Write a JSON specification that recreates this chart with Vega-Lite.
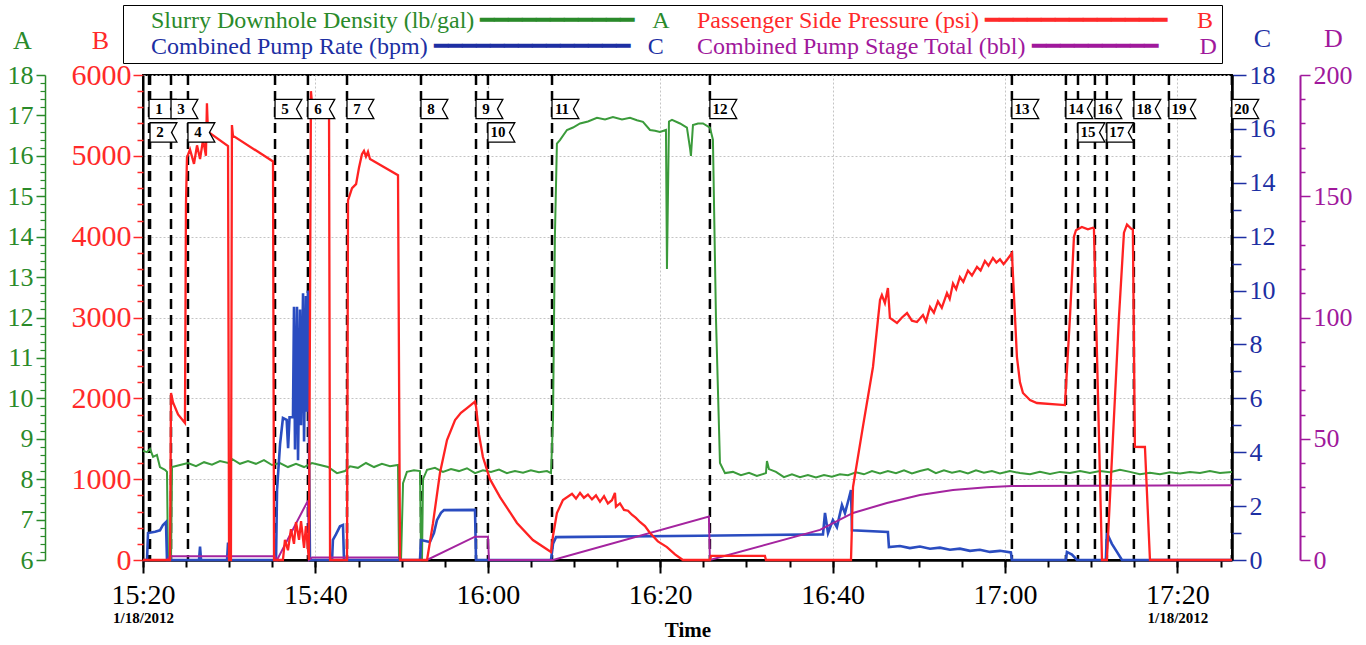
{
  "$schema": "https://vega.github.io/schema/vega-lite/v6.json",
  "width": 1089,
  "height": 485,
  "autosize": {"type": "none"},
  "padding": {"left": 143, "top": 75, "right": 134, "bottom": 85},
  "background": "white",
  "config": {
    "font": "Liberation Serif",
    "view": {"stroke": "black", "strokeWidth": 2},
    "axis": {"labelFont": "Liberation Serif", "titleFont": "Liberation Serif", "labelFontWeight": "normal"}
  },
  "datasets": {
    "density": [
      {"t": "15:20:00", "v": 8.7}, {"t": "15:20:28", "v": 8.67}, {"t": "15:20:49", "v": 8.75}, {"t": "15:21:10", "v": 8.55},
      {"t": "15:21:37", "v": 8.6}, {"t": "15:21:58", "v": 8.3}, {"t": "15:22:33", "v": 8.23}, {"t": "15:22:47", "v": 8.18},
      {"t": "15:22:54", "v": 6.0}, {"t": "15:23:15", "v": 6.0}, {"t": "15:23:22", "v": 8.3}, {"t": "15:24:18", "v": 8.35},
      {"t": "15:25:13", "v": 8.4}, {"t": "15:26:09", "v": 8.32}, {"t": "15:27:05", "v": 8.42}, {"t": "15:28:00", "v": 8.36},
      {"t": "15:28:56", "v": 8.45}, {"t": "15:29:52", "v": 8.4}, {"t": "15:30:19", "v": 8.5}, {"t": "15:31:15", "v": 8.38},
      {"t": "15:32:11", "v": 8.45}, {"t": "15:33:06", "v": 8.38}, {"t": "15:34:02", "v": 8.47}, {"t": "15:34:58", "v": 8.35},
      {"t": "15:35:53", "v": 8.4}, {"t": "15:36:49", "v": 8.3}, {"t": "15:37:45", "v": 8.38}, {"t": "15:38:41", "v": 8.3},
      {"t": "15:39:36", "v": 8.4}, {"t": "15:40:32", "v": 8.35}, {"t": "15:41:28", "v": 8.3}, {"t": "15:42:30", "v": 8.15},
      {"t": "15:43:26", "v": 8.2}, {"t": "15:44:01", "v": 8.32}, {"t": "15:44:56", "v": 8.28}, {"t": "15:45:52", "v": 8.4},
      {"t": "15:46:48", "v": 8.3}, {"t": "15:47:43", "v": 8.38}, {"t": "15:48:39", "v": 8.32}, {"t": "15:49:35", "v": 8.35},
      {"t": "15:49:42", "v": 6.0}, {"t": "15:49:56", "v": 6.0}, {"t": "15:50:10", "v": 7.9}, {"t": "15:50:37", "v": 8.18},
      {"t": "15:51:26", "v": 8.22}, {"t": "15:52:08", "v": 8.2}, {"t": "15:52:15", "v": 6.2}, {"t": "15:52:22", "v": 6.0},
      {"t": "15:52:29", "v": 8.0}, {"t": "15:52:57", "v": 8.23}, {"t": "15:53:52", "v": 8.28}, {"t": "15:54:48", "v": 8.18},
      {"t": "15:55:44", "v": 8.25}, {"t": "15:56:39", "v": 8.2}, {"t": "15:57:35", "v": 8.27}, {"t": "15:58:31", "v": 8.15},
      {"t": "15:59:26", "v": 8.22}, {"t": "16:00:22", "v": 8.18}, {"t": "16:01:18", "v": 8.24}, {"t": "16:02:13", "v": 8.15},
      {"t": "16:03:09", "v": 8.2}, {"t": "16:04:05", "v": 8.16}, {"t": "16:05:00", "v": 8.22}, {"t": "16:05:56", "v": 8.17},
      {"t": "16:06:52", "v": 8.2}, {"t": "16:07:20", "v": 8.15}, {"t": "16:07:34", "v": 9.5}, {"t": "16:07:47", "v": 14.0},
      {"t": "16:08:01", "v": 16.3}, {"t": "16:08:22", "v": 16.39}, {"t": "16:09:11", "v": 16.64}, {"t": "16:09:53", "v": 16.7},
      {"t": "16:10:42", "v": 16.8}, {"t": "16:11:37", "v": 16.85}, {"t": "16:12:40", "v": 16.94}, {"t": "16:13:36", "v": 16.9},
      {"t": "16:14:31", "v": 16.96}, {"t": "16:15:34", "v": 16.9}, {"t": "16:16:30", "v": 16.94}, {"t": "16:17:18", "v": 16.88},
      {"t": "16:18:00", "v": 16.84}, {"t": "16:18:49", "v": 16.64}, {"t": "16:19:24", "v": 16.62}, {"t": "16:19:58", "v": 16.59},
      {"t": "16:20:40", "v": 16.64}, {"t": "16:20:47", "v": 13.2}, {"t": "16:21:01", "v": 16.85}, {"t": "16:21:22", "v": 16.89},
      {"t": "16:22:18", "v": 16.8}, {"t": "16:23:06", "v": 16.7}, {"t": "16:23:27", "v": 16.2}, {"t": "16:23:34", "v": 16.0},
      {"t": "16:23:48", "v": 16.76}, {"t": "16:24:23", "v": 16.8}, {"t": "16:24:58", "v": 16.8}, {"t": "16:25:46", "v": 16.7},
      {"t": "16:26:07", "v": 16.4}, {"t": "16:26:28", "v": 12.0}, {"t": "16:26:56", "v": 8.4}, {"t": "16:27:31", "v": 8.15},
      {"t": "16:28:26", "v": 8.18}, {"t": "16:29:22", "v": 8.1}, {"t": "16:30:18", "v": 8.16}, {"t": "16:31:13", "v": 8.08},
      {"t": "16:32:16", "v": 8.15}, {"t": "16:32:23", "v": 8.45}, {"t": "16:32:37", "v": 8.25}, {"t": "16:33:26", "v": 8.18},
      {"t": "16:34:21", "v": 8.05}, {"t": "16:35:17", "v": 8.12}, {"t": "16:36:13", "v": 8.05}, {"t": "16:37:08", "v": 8.1},
      {"t": "16:38:04", "v": 8.04}, {"t": "16:39:00", "v": 8.1}, {"t": "16:39:55", "v": 8.06}, {"t": "16:40:51", "v": 8.12},
      {"t": "16:41:47", "v": 8.1}, {"t": "16:42:43", "v": 8.17}, {"t": "16:43:38", "v": 8.12}, {"t": "16:44:34", "v": 8.2},
      {"t": "16:45:30", "v": 8.14}, {"t": "16:46:25", "v": 8.2}, {"t": "16:47:21", "v": 8.15}, {"t": "16:48:17", "v": 8.22},
      {"t": "16:49:12", "v": 8.14}, {"t": "16:50:08", "v": 8.2}, {"t": "16:51:04", "v": 8.25}, {"t": "16:51:59", "v": 8.15},
      {"t": "16:52:55", "v": 8.22}, {"t": "16:53:51", "v": 8.16}, {"t": "16:54:46", "v": 8.2}, {"t": "16:55:42", "v": 8.14},
      {"t": "16:56:38", "v": 8.22}, {"t": "16:57:33", "v": 8.16}, {"t": "16:58:29", "v": 8.2}, {"t": "16:59:25", "v": 8.14},
      {"t": "17:00:34", "v": 8.2}, {"t": "17:01:44", "v": 8.15}, {"t": "17:02:54", "v": 8.12}, {"t": "17:04:03", "v": 8.18},
      {"t": "17:05:13", "v": 8.13}, {"t": "17:06:23", "v": 8.18}, {"t": "17:07:32", "v": 8.15}, {"t": "17:08:42", "v": 8.2},
      {"t": "17:09:51", "v": 8.15}, {"t": "17:11:01", "v": 8.2}, {"t": "17:12:10", "v": 8.17}, {"t": "17:13:20", "v": 8.23},
      {"t": "17:14:30", "v": 8.18}, {"t": "17:15:39", "v": 8.12}, {"t": "17:16:49", "v": 8.16}, {"t": "17:17:58", "v": 8.12},
      {"t": "17:19:08", "v": 8.17}, {"t": "17:20:18", "v": 8.14}, {"t": "17:21:27", "v": 8.18}, {"t": "17:22:37", "v": 8.15},
      {"t": "17:23:46", "v": 8.2}, {"t": "17:24:56", "v": 8.15}, {"t": "17:26:19", "v": 8.18}
    ],
    "pressure": [
      {"t": "15:20:00", "v": 0}, {"t": "15:23:08", "v": 0}, {"t": "15:23:15", "v": 2066}, {"t": "15:23:29", "v": 1950},
      {"t": "15:24:04", "v": 1800}, {"t": "15:24:52", "v": 1695}, {"t": "15:24:59", "v": 4400}, {"t": "15:25:06", "v": 4980},
      {"t": "15:25:27", "v": 5080}, {"t": "15:25:55", "v": 4900}, {"t": "15:26:16", "v": 5130}, {"t": "15:26:37", "v": 4960},
      {"t": "15:26:58", "v": 5200}, {"t": "15:27:18", "v": 5000}, {"t": "15:27:25", "v": 5650}, {"t": "15:27:32", "v": 5300},
      {"t": "15:29:52", "v": 5120}, {"t": "15:29:59", "v": 0}, {"t": "15:30:12", "v": 0}, {"t": "15:30:19", "v": 5380},
      {"t": "15:30:26", "v": 5250}, {"t": "15:35:05", "v": 4930}, {"t": "15:35:12", "v": 0}, {"t": "15:36:14", "v": 0},
      {"t": "15:36:28", "v": 250}, {"t": "15:36:49", "v": 120}, {"t": "15:37:10", "v": 380}, {"t": "15:37:31", "v": 200},
      {"t": "15:37:45", "v": 470}, {"t": "15:38:06", "v": 250}, {"t": "15:38:20", "v": 480}, {"t": "15:38:41", "v": 150},
      {"t": "15:38:54", "v": 420}, {"t": "15:39:15", "v": 0}, {"t": "15:39:29", "v": 5800}, {"t": "15:39:43", "v": 5500},
      {"t": "15:41:35", "v": 5480}, {"t": "15:41:42", "v": 0}, {"t": "15:43:40", "v": 0}, {"t": "15:43:47", "v": 4450},
      {"t": "15:44:15", "v": 4600}, {"t": "15:44:43", "v": 4650}, {"t": "15:45:03", "v": 4850}, {"t": "15:45:24", "v": 5020},
      {"t": "15:45:38", "v": 5060}, {"t": "15:45:52", "v": 4990}, {"t": "15:46:06", "v": 5050}, {"t": "15:46:20", "v": 4960},
      {"t": "15:49:35", "v": 4760}, {"t": "15:49:49", "v": 0}, {"t": "15:52:57", "v": 0}, {"t": "15:53:38", "v": 450},
      {"t": "15:54:27", "v": 1076}, {"t": "15:55:16", "v": 1484}, {"t": "15:56:12", "v": 1732}, {"t": "15:56:53", "v": 1820},
      {"t": "15:57:35", "v": 1880}, {"t": "15:58:31", "v": 1960}, {"t": "15:58:38", "v": 1900}, {"t": "15:58:59", "v": 1550},
      {"t": "15:59:26", "v": 1274}, {"t": "16:00:15", "v": 1000}, {"t": "16:01:25", "v": 779}, {"t": "16:03:23", "v": 458},
      {"t": "16:05:14", "v": 247}, {"t": "16:07:20", "v": 99}, {"t": "16:07:34", "v": 300}, {"t": "16:08:01", "v": 580},
      {"t": "16:08:43", "v": 742}, {"t": "16:09:46", "v": 820}, {"t": "16:10:14", "v": 760}, {"t": "16:10:42", "v": 830},
      {"t": "16:11:09", "v": 770}, {"t": "16:11:37", "v": 810}, {"t": "16:12:05", "v": 750}, {"t": "16:12:33", "v": 800},
      {"t": "16:13:01", "v": 720}, {"t": "16:13:29", "v": 790}, {"t": "16:13:56", "v": 700}, {"t": "16:14:24", "v": 740},
      {"t": "16:14:45", "v": 830}, {"t": "16:14:52", "v": 660}, {"t": "16:15:20", "v": 700}, {"t": "16:15:48", "v": 620},
      {"t": "16:16:16", "v": 610}, {"t": "16:16:43", "v": 560}, {"t": "16:17:11", "v": 520}, {"t": "16:17:39", "v": 470},
      {"t": "16:18:14", "v": 420}, {"t": "16:18:49", "v": 334}, {"t": "16:19:44", "v": 230}, {"t": "16:20:47", "v": 160},
      {"t": "16:21:43", "v": 70}, {"t": "16:22:38", "v": 0}, {"t": "16:25:46", "v": 0}, {"t": "16:25:53", "v": 50},
      {"t": "16:32:09", "v": 50}, {"t": "16:32:16", "v": 0}, {"t": "16:42:08", "v": 0}, {"t": "16:42:22", "v": 903},
      {"t": "16:43:31", "v": 1650}, {"t": "16:44:41", "v": 2388}, {"t": "16:45:30", "v": 3216}, {"t": "16:45:43", "v": 3278},
      {"t": "16:46:04", "v": 3179}, {"t": "16:46:25", "v": 3365}, {"t": "16:46:39", "v": 2994}, {"t": "16:47:28", "v": 2932},
      {"t": "16:48:03", "v": 3000}, {"t": "16:48:38", "v": 3055}, {"t": "16:49:12", "v": 2960}, {"t": "16:49:47", "v": 2944},
      {"t": "16:50:29", "v": 3030}, {"t": "16:50:50", "v": 2950}, {"t": "16:51:18", "v": 3130}, {"t": "16:51:45", "v": 3060},
      {"t": "16:52:13", "v": 3200}, {"t": "16:52:40", "v": 3120}, {"t": "16:53:16", "v": 3303}, {"t": "16:53:35", "v": 3230},
      {"t": "16:53:58", "v": 3420}, {"t": "16:54:20", "v": 3350}, {"t": "16:54:46", "v": 3501}, {"t": "16:55:10", "v": 3440},
      {"t": "16:55:42", "v": 3580}, {"t": "16:56:10", "v": 3520}, {"t": "16:56:45", "v": 3625}, {"t": "16:57:10", "v": 3580},
      {"t": "16:57:40", "v": 3700}, {"t": "16:58:05", "v": 3640}, {"t": "16:58:36", "v": 3736}, {"t": "16:59:00", "v": 3680},
      {"t": "16:59:25", "v": 3720}, {"t": "16:59:50", "v": 3660}, {"t": "17:00:13", "v": 3711}, {"t": "17:00:48", "v": 3797},
      {"t": "17:01:23", "v": 2511}, {"t": "17:01:44", "v": 2200}, {"t": "17:02:05", "v": 2066}, {"t": "17:02:54", "v": 1980},
      {"t": "17:03:42", "v": 1942}, {"t": "17:06:57", "v": 1917}, {"t": "17:07:32", "v": 3000}, {"t": "17:08:00", "v": 4000},
      {"t": "17:08:14", "v": 4080}, {"t": "17:08:55", "v": 4120}, {"t": "17:09:37", "v": 4090}, {"t": "17:10:12", "v": 4110},
      {"t": "17:10:19", "v": 4100}, {"t": "17:11:15", "v": 0}, {"t": "17:11:49", "v": 0}, {"t": "17:12:31", "v": 1500},
      {"t": "17:13:13", "v": 3000}, {"t": "17:13:48", "v": 4050}, {"t": "17:14:09", "v": 4150}, {"t": "17:14:37", "v": 4100},
      {"t": "17:14:50", "v": 4090}, {"t": "17:15:04", "v": 1400}, {"t": "17:16:14", "v": 1398}, {"t": "17:16:49", "v": 0},
      {"t": "17:26:19", "v": 0}
    ],
    "rate": [
      {"t": "15:20:00", "v": 0}, {"t": "15:20:28", "v": 0}, {"t": "15:20:35", "v": 1.0}, {"t": "15:21:24", "v": 1.05},
      {"t": "15:21:58", "v": 1.1}, {"t": "15:22:19", "v": 1.3}, {"t": "15:22:40", "v": 1.41}, {"t": "15:22:47", "v": 0},
      {"t": "15:26:30", "v": 0}, {"t": "15:26:37", "v": 0.5}, {"t": "15:26:44", "v": 0}, {"t": "15:29:45", "v": 0},
      {"t": "15:29:52", "v": 0.65}, {"t": "15:29:59", "v": 0}, {"t": "15:35:26", "v": 0}, {"t": "15:35:33", "v": 2.6},
      {"t": "15:35:54", "v": 4.3}, {"t": "15:36:14", "v": 5.27}, {"t": "15:36:40", "v": 5.2}, {"t": "15:36:50", "v": 4.15},
      {"t": "15:37:00", "v": 5.3}, {"t": "15:37:24", "v": 5.3}, {"t": "15:37:31", "v": 9.4}, {"t": "15:37:38", "v": 4.1},
      {"t": "15:37:52", "v": 9.4}, {"t": "15:37:59", "v": 3.7}, {"t": "15:38:13", "v": 9.3}, {"t": "15:38:20", "v": 5.0},
      {"t": "15:38:34", "v": 9.9}, {"t": "15:38:41", "v": 4.4}, {"t": "15:38:54", "v": 9.8}, {"t": "15:39:01", "v": 5.5},
      {"t": "15:39:08", "v": 10.0}, {"t": "15:39:22", "v": 0}, {"t": "15:41:56", "v": 0}, {"t": "15:42:02", "v": 0.75},
      {"t": "15:42:23", "v": 0.95}, {"t": "15:42:51", "v": 1.25}, {"t": "15:43:12", "v": 1.3}, {"t": "15:43:19", "v": 0},
      {"t": "15:52:08", "v": 0}, {"t": "15:52:15", "v": 0.74}, {"t": "15:53:17", "v": 0.67}, {"t": "15:53:45", "v": 1.0},
      {"t": "15:54:06", "v": 1.48}, {"t": "15:54:34", "v": 1.75}, {"t": "15:54:55", "v": 1.85}, {"t": "15:58:31", "v": 1.86},
      {"t": "15:58:38", "v": 0}, {"t": "16:07:20", "v": 0}, {"t": "16:07:34", "v": 0.6}, {"t": "16:07:55", "v": 0.85},
      {"t": "16:24:37", "v": 0.9}, {"t": "16:38:53", "v": 0.95}, {"t": "16:39:07", "v": 1.75}, {"t": "16:39:28", "v": 1.0},
      {"t": "16:40:02", "v": 1.48}, {"t": "16:40:30", "v": 1.22}, {"t": "16:41:05", "v": 2.04}, {"t": "16:41:26", "v": 1.74},
      {"t": "16:41:54", "v": 2.3}, {"t": "16:42:08", "v": 2.6}, {"t": "16:42:15", "v": 1.1}, {"t": "16:46:25", "v": 1.04},
      {"t": "16:46:32", "v": 0.48}, {"t": "16:47:49", "v": 0.52}, {"t": "16:48:58", "v": 0.44}, {"t": "16:50:08", "v": 0.5},
      {"t": "16:51:18", "v": 0.42}, {"t": "16:52:27", "v": 0.46}, {"t": "16:53:37", "v": 0.38}, {"t": "16:54:46", "v": 0.42},
      {"t": "16:55:56", "v": 0.34}, {"t": "16:57:05", "v": 0.38}, {"t": "16:58:15", "v": 0.3}, {"t": "16:59:25", "v": 0.34},
      {"t": "17:00:41", "v": 0.28}, {"t": "17:00:48", "v": 0}, {"t": "17:07:04", "v": 0}, {"t": "17:07:11", "v": 0.3},
      {"t": "17:07:46", "v": 0.2}, {"t": "17:08:21", "v": 0}, {"t": "17:11:42", "v": 0}, {"t": "17:11:49", "v": 1.0},
      {"t": "17:12:24", "v": 0.6}, {"t": "17:12:59", "v": 0.3}, {"t": "17:13:34", "v": 0}, {"t": "17:26:19", "v": 0}
    ],
    "stage": [
      {"t": "15:20:00", "v": 0}, {"t": "15:22:47", "v": 0}, {"t": "15:23:08", "v": 1.5}, {"t": "15:35:19", "v": 1.5},
      {"t": "15:35:33", "v": 0}, {"t": "15:39:08", "v": 24.5}, {"t": "15:39:15", "v": 0}, {"t": "15:39:36", "v": 1.0},
      {"t": "15:49:49", "v": 1.0}, {"t": "15:49:56", "v": 0}, {"t": "15:52:57", "v": 0}, {"t": "15:58:31", "v": 9.6},
      {"t": "16:00:01", "v": 9.6}, {"t": "16:00:08", "v": 0}, {"t": "16:07:34", "v": 0}, {"t": "16:25:39", "v": 17.9},
      {"t": "16:25:46", "v": 0}, {"t": "16:38:32", "v": 12.4}, {"t": "16:42:22", "v": 19.4}, {"t": "16:46:18", "v": 23.5},
      {"t": "16:50:08", "v": 26.8}, {"t": "16:53:58", "v": 28.9}, {"t": "16:57:54", "v": 30.0}, {"t": "17:00:48", "v": 30.5},
      {"t": "17:26:19", "v": 30.8}
    ]
  },
  "resolve": {"scale": {"y": "independent"}, "axis": {"x": "independent"}},
  "layer": [
    {
      "data": {"values": [
        {"t": "15:20:42", "n": "1"}, {"t": "15:20:49", "n": "2"}, {"t": "15:23:15", "n": "3"}, {"t": "15:25:13", "n": "4"},
        {"t": "15:35:19", "n": "5"}, {"t": "15:39:08", "n": "6"}, {"t": "15:43:40", "n": "7"}, {"t": "15:52:15", "n": "8"},
        {"t": "15:58:38", "n": "9"}, {"t": "16:00:01", "n": "10"}, {"t": "16:07:27", "n": "11"}, {"t": "16:25:46", "n": "12"},
        {"t": "17:00:48", "n": "13"}, {"t": "17:07:04", "n": "14"}, {"t": "17:08:28", "n": "15"}, {"t": "17:10:26", "n": "16"},
        {"t": "17:11:49", "n": "17"}, {"t": "17:14:57", "n": "18"}, {"t": "17:19:01", "n": "19"}, {"t": "17:26:19", "n": "20"}],
        "format": {"parse": {"t": "utc:'%H:%M:%S'"}}},
      "mark": {"type": "rule", "strokeDash": [10, 6], "strokeWidth": 2.5, "color": "black"},
      "encoding": {
        "x": {"field": "t", "type": "temporal",
          "scale": {"type": "utc", "domain": [{"utc": true, "year": 1900, "month": 1, "date": 1, "hours": 15, "minutes": 20}, {"utc": true, "year": 1900, "month": 1, "date": 1, "hours": 17, "minutes": 26, "seconds": 20}]},
          "axis": {"orient": "bottom", "values": [{"utc": true, "year": 1900, "month": 1, "date": 1, "hours": 15, "minutes": 20}, {"utc": true, "year": 1900, "month": 1, "date": 1, "hours": 15, "minutes": 40}, {"utc": true, "year": 1900, "month": 1, "date": 1, "hours": 16, "minutes": 0}, {"utc": true, "year": 1900, "month": 1, "date": 1, "hours": 16, "minutes": 20}, {"utc": true, "year": 1900, "month": 1, "date": 1, "hours": 16, "minutes": 40}, {"utc": true, "year": 1900, "month": 1, "date": 1, "hours": 17, "minutes": 0}, {"utc": true, "year": 1900, "month": 1, "date": 1, "hours": 17, "minutes": 20}],
            "format": "%H:%M",
            "labelExpr": "datum.label === '15:20' || datum.label === '17:20' ? '1/18/2012' : ''",
            "domain": false, "ticks": true, "tickSize": 13, "tickWidth": 2, "tickColor": "black",
            "grid": true, "gridColor": "#c4c4c4", "gridDash": [2, 2], "gridWidth": 1, "title": null,
            "labelPadding": 37, "labelFontSize": 15, "labelFontWeight": "bold", "labelColor": "black", "labelOverlap": false, "labelFlush": false}}
      }
    },
    {
      "data": {"name": "density", "format": {"parse": {"t": "utc:'%H:%M:%S'"}}},
      "mark": {"type": "line", "strokeWidth": 2},
      "encoding": {
        "x": {"field": "t", "type": "temporal", "axis": null},
        "y": {"field": "v", "type": "quantitative", "scale": {"domain": [6, 18], "nice": false, "zero": false},
          "axis": {"orient": "left", "offset": 98, "values": [6, 7, 8, 9, 10, 11, 12, 13, 14, 15, 16, 17, 18],
            "title": "A", "titleAngle": 0, "titleX": -23, "titleY": -35, "titleAlign": "center", "titleBaseline": "middle",
            "titleColor": "#2a8a2a", "titleFontSize": 26, "titleFontWeight": "normal",
            "labelColor": "#2a8a2a", "labelFontSize": 26, "labelPadding": 3, "tickColor": "#2a8a2a", "tickSize": 9, "tickWidth": 1.5,
            "domainColor": "#2a8a2a", "domainWidth": 1.5, "grid": false}},
        "color": {"datum": "Slurry Downhole Density (lb/gal)", "type": "nominal",
          "scale": {"domain": ["Slurry Downhole Density (lb/gal)", "Combined Pump Rate (bpm)", "Passenger Side Pressure (psi)", "Combined Pump Stage Total (bbl)"],
            "range": ["#3b9b3b", "#2a4cc0", "#ff2222", "#a4249f"]},
          "legend": {"orient": "none", "legendX": -20, "legendY": -70, "columns": 2, "title": null,
            "symbolOpacity": 0, "symbolSize": 4, "symbolType": "stroke", "labelOffset": 0,
            "labelFont": "Liberation Serif", "labelFontSize": 24, "labelLimit": 2000,
            "columnPadding": 1, "rowPadding": 2, "padding": 4, "strokeColor": "black", "gridAlign": "all",
            "labelExpr": "datum.label === 'Slurry Downhole Density (lb/gal)' ? datum.label + ' \u2501\u2501\u2501\u2501\u2501\u2501\u2501\u2501\u2501\u2501\u2501\u00a0\u00a0\u00a0A' : datum.label === 'Passenger Side Pressure (psi)' ? datum.label + ' \u2501\u2501\u2501\u2501\u2501\u2501\u2501\u2501\u2501\u2501\u2501\u2501\u2501\u00a0\u00a0\u00a0\u00a0\u00a0B' : datum.label === 'Combined Pump Rate (bpm)' ? datum.label + ' \u2501\u2501\u2501\u2501\u2501\u2501\u2501\u2501\u2501\u2501\u2501\u2501\u2501\u2501\u00a0\u00a0\u00a0C' : datum.label + ' \u2501\u2501\u2501\u2501\u2501\u2501\u2501\u2501\u2501\u00a0\u00a0\u00a0\u00a0\u00a0\u00a0\u00a0D'",
            "encode": {"labels": {"update": {"fill": {"signal": "datum.value === 'Slurry Downhole Density (lb/gal)' ? '#2a8a2a' : datum.value === 'Passenger Side Pressure (psi)' ? '#ff2a2a' : datum.value === 'Combined Pump Rate (bpm)' ? '#1d2fa3' : '#a0189c'"}}}}}}
      }
    },
    {
      "data": {"values": [{}]},
      "mark": {"type": "rule", "opacity": 0},
      "encoding": {
        "y": {"datum": 6, "type": "quantitative", "scale": {"domain": [6, 18], "nice": false, "zero": false},
          "axis": {"orient": "left", "offset": 98, "values": [6.2, 6.4, 6.6, 6.8, 7.2, 7.4, 7.6, 7.8, 8.2, 8.4, 8.6, 8.8, 9.2, 9.4, 9.6, 9.8, 10.2, 10.4, 10.6, 10.8, 11.2, 11.4, 11.6, 11.8, 12.2, 12.4, 12.6, 12.8, 13.2, 13.4, 13.6, 13.8, 14.2, 14.4, 14.6, 14.8, 15.2, 15.4, 15.6, 15.8, 16.2, 16.4, 16.6, 16.8, 17.2, 17.4, 17.6, 17.8], "labels": false, "domain": false, "grid": false,
            "tickColor": "#2a8a2a", "tickSize": 5, "tickWidth": 1.2, "title": null}}
      }
    },
    {
      "data": {"name": "rate", "format": {"parse": {"t": "utc:'%H:%M:%S'"}}},
      "mark": {"type": "line", "strokeWidth": 2.6},
      "encoding": {
        "x": {"field": "t", "type": "temporal", "axis": null},
        "y": {"field": "v", "type": "quantitative", "scale": {"domain": [0, 18], "nice": false},
          "axis": {"orient": "right", "values": [0, 2, 4, 6, 8, 10, 12, 14, 16, 18],
            "title": "C", "titleAngle": 0, "titleX": 30, "titleY": -37, "titleAlign": "center", "titleBaseline": "middle",
            "titleColor": "#1d2fa3", "titleFontSize": 26, "titleFontWeight": "normal",
            "labelColor": "#1d2fa3", "labelFontSize": 26, "labelPadding": 3, "tickColor": "#1d2fa3", "tickSize": 14, "tickWidth": 1.5,
            "domainColor": "black", "domainWidth": 2.5, "grid": false}},
        "color": {"datum": "Combined Pump Rate (bpm)", "type": "nominal"}
      }
    },
    {
      "data": {"values": [{}]},
      "mark": {"type": "rule", "opacity": 0},
      "encoding": {
        "y": {"datum": 0, "type": "quantitative", "scale": {"domain": [0, 18], "nice": false},
          "axis": {"orient": "right", "values": [1, 3, 5, 7, 9, 11, 13, 15, 17], "labels": false, "domain": false, "grid": false,
            "tickColor": "#1d2fa3", "tickSize": 9, "tickWidth": 1.5, "title": null}}
      }
    },
    {
      "data": {"name": "stage", "format": {"parse": {"t": "utc:'%H:%M:%S'"}}},
      "mark": {"type": "line", "strokeWidth": 2},
      "encoding": {
        "x": {"field": "t", "type": "temporal", "axis": null},
        "y": {"field": "v", "type": "quantitative", "scale": {"domain": [0, 200], "nice": false},
          "axis": {"orient": "right", "offset": 68, "values": [0, 50, 100, 150, 200],
            "title": "D", "titleAngle": 0, "titleX": 33, "titleY": -37, "titleAlign": "center", "titleBaseline": "middle",
            "titleColor": "#a0189c", "titleFontSize": 26, "titleFontWeight": "normal",
            "labelColor": "#a0189c", "labelFontSize": 26, "labelPadding": 3, "tickColor": "#a0189c", "tickSize": 10, "tickWidth": 1.5,
            "domainColor": "#a0189c", "domainWidth": 2, "grid": false}},
        "color": {"datum": "Combined Pump Stage Total (bbl)", "type": "nominal"}
      }
    },
    {
      "data": {"values": [{}]},
      "mark": {"type": "rule", "opacity": 0},
      "encoding": {
        "y": {"datum": 0, "type": "quantitative", "scale": {"domain": [0, 200], "nice": false},
          "axis": {"orient": "right", "offset": 68, "values": [10, 20, 30, 40, 60, 70, 80, 90, 110, 120, 130, 140, 160, 170, 180, 190], "labels": false, "domain": false, "grid": false,
            "tickColor": "#a0189c", "tickSize": 5, "tickWidth": 1.5, "title": null}}
      }
    },
    {
      "data": {"name": "pressure", "format": {"parse": {"t": "utc:'%H:%M:%S'"}}},
      "mark": {"type": "line", "strokeWidth": 2.3},
      "encoding": {
        "x": {"field": "t", "type": "temporal",
          "axis": {"orient": "bottom", "title": "Time", "titleFontSize": 21, "titleFontWeight": "bold", "titleColor": "black", "titlePadding": 10,
            "values": [{"utc": true, "year": 1900, "month": 1, "date": 1, "hours": 15, "minutes": 20}, {"utc": true, "year": 1900, "month": 1, "date": 1, "hours": 15, "minutes": 25}, {"utc": true, "year": 1900, "month": 1, "date": 1, "hours": 15, "minutes": 30}, {"utc": true, "year": 1900, "month": 1, "date": 1, "hours": 15, "minutes": 35}, {"utc": true, "year": 1900, "month": 1, "date": 1, "hours": 15, "minutes": 40}, {"utc": true, "year": 1900, "month": 1, "date": 1, "hours": 15, "minutes": 45}, {"utc": true, "year": 1900, "month": 1, "date": 1, "hours": 15, "minutes": 50}, {"utc": true, "year": 1900, "month": 1, "date": 1, "hours": 15, "minutes": 55}, {"utc": true, "year": 1900, "month": 1, "date": 1, "hours": 16, "minutes": 0}, {"utc": true, "year": 1900, "month": 1, "date": 1, "hours": 16, "minutes": 5}, {"utc": true, "year": 1900, "month": 1, "date": 1, "hours": 16, "minutes": 10}, {"utc": true, "year": 1900, "month": 1, "date": 1, "hours": 16, "minutes": 15}, {"utc": true, "year": 1900, "month": 1, "date": 1, "hours": 16, "minutes": 20}, {"utc": true, "year": 1900, "month": 1, "date": 1, "hours": 16, "minutes": 25}, {"utc": true, "year": 1900, "month": 1, "date": 1, "hours": 16, "minutes": 30}, {"utc": true, "year": 1900, "month": 1, "date": 1, "hours": 16, "minutes": 35}, {"utc": true, "year": 1900, "month": 1, "date": 1, "hours": 16, "minutes": 40}, {"utc": true, "year": 1900, "month": 1, "date": 1, "hours": 16, "minutes": 45}, {"utc": true, "year": 1900, "month": 1, "date": 1, "hours": 16, "minutes": 50}, {"utc": true, "year": 1900, "month": 1, "date": 1, "hours": 16, "minutes": 55}, {"utc": true, "year": 1900, "month": 1, "date": 1, "hours": 17, "minutes": 0}, {"utc": true, "year": 1900, "month": 1, "date": 1, "hours": 17, "minutes": 5}, {"utc": true, "year": 1900, "month": 1, "date": 1, "hours": 17, "minutes": 10}, {"utc": true, "year": 1900, "month": 1, "date": 1, "hours": 17, "minutes": 15}, {"utc": true, "year": 1900, "month": 1, "date": 1, "hours": 17, "minutes": 20}, {"utc": true, "year": 1900, "month": 1, "date": 1, "hours": 17, "minutes": 25}],
            "format": "%H:%M",
            "labelExpr": "indexof(['15:20', '15:40', '16:00', '16:20', '16:40', '17:00', '17:20'], datum.label) >= 0 ? datum.label : ''",
            "tickSize": 7, "grid": false,
            "labelFontSize": 28, "labelColor": "black", "labelPadding": 14, "labelFlush": false, "labelOverlap": false,
            "domainColor": "black", "domainWidth": 2.5, "tickColor": "black", "tickWidth": 2}},
        "y": {"field": "v", "type": "quantitative", "scale": {"domain": [0, 6000], "nice": false},
          "axis": {"orient": "left", "values": [0, 1000, 2000, 3000, 4000, 5000, 6000], "format": "d",
            "title": "B", "titleAngle": 0, "titleX": -43, "titleY": -35, "titleAlign": "center", "titleBaseline": "middle",
            "titleColor": "#ff2a2a", "titleFontSize": 26, "titleFontWeight": "normal",
            "labelColor": "#ff2a2a", "labelFontSize": 30, "labelPadding": 2, "tickColor": "#ff2a2a", "tickSize": 10, "tickWidth": 1.5,
            "domainColor": "black", "domainWidth": 2, "grid": true, "gridColor": "#c4c4c4", "gridDash": [2, 2], "gridWidth": 1}},
        "color": {"datum": "Passenger Side Pressure (psi)", "type": "nominal"}
      }
    },
    {
      "data": {"values": [{}]},
      "mark": {"type": "rule", "opacity": 0},
      "encoding": {
        "y": {"datum": 0, "type": "quantitative", "scale": {"domain": [0, 6000], "nice": false},
          "axis": {"orient": "left", "values": [200, 400, 600, 800, 1200, 1400, 1600, 1800, 2200, 2400, 2600, 2800, 3200, 3400, 3600, 3800, 4200, 4400, 4600, 4800, 5200, 5400, 5600, 5800], "labels": false, "domain": false, "grid": false,
            "tickColor": "#ff2a2a", "tickSize": 6, "tickWidth": 1.5, "title": null}}
      }
    },
    {
      "data": {"values": [
        {"t": "15:20:42", "n": "1"}, {"t": "15:23:15", "n": "3"}, {"t": "15:35:19", "n": "5"}, {"t": "15:39:08", "n": "6"},
        {"t": "15:43:40", "n": "7"}, {"t": "15:52:15", "n": "8"}, {"t": "15:58:38", "n": "9"}, {"t": "16:07:27", "n": "11"},
        {"t": "16:25:46", "n": "12"}, {"t": "17:00:48", "n": "13"}, {"t": "17:07:04", "n": "14"}, {"t": "17:10:26", "n": "16"},
        {"t": "17:14:57", "n": "18"}, {"t": "17:19:01", "n": "19"}, {"t": "17:26:19", "n": "20"}],
        "format": {"parse": {"t": "utc:'%H:%M:%S'"}}},
      "layer": [
        {
          "mark": {"type": "point", "shape": "M0,-0.72L2,-0.72L1.6,0L2,0.72L0,0.72Z", "size": 720, "filled": true, "fill": "white", "stroke": "black", "strokeWidth": 1.3, "opacity": 1},
          "encoding": {
            "x": {"field": "t", "type": "temporal", "axis": null},
            "y": {"datum": 5580, "type": "quantitative", "scale": {"domain": [0, 6000], "nice": false}, "axis": null}
          }
        },
        {
          "mark": {"type": "text", "dx": 10, "align": "center", "baseline": "middle", "font": "Liberation Serif", "fontSize": 15, "fontWeight": "bold", "color": "black"},
          "encoding": {
            "x": {"field": "t", "type": "temporal", "axis": null},
            "y": {"datum": 5580, "type": "quantitative", "scale": {"domain": [0, 6000], "nice": false}, "axis": null},
            "text": {"field": "n"}
          }
        }
      ]
    },
    {
      "data": {"values": [
        {"t": "15:20:49", "n": "2"}, {"t": "15:25:13", "n": "4"}, {"t": "16:00:01", "n": "10"}, {"t": "17:08:28", "n": "15"},
        {"t": "17:11:49", "n": "17"}],
        "format": {"parse": {"t": "utc:'%H:%M:%S'"}}},
      "layer": [
        {
          "mark": {"type": "point", "shape": "M0,-0.72L2,-0.72L1.6,0L2,0.72L0,0.72Z", "size": 720, "filled": true, "fill": "white", "stroke": "black", "strokeWidth": 1.3, "opacity": 1},
          "encoding": {
            "x": {"field": "t", "type": "temporal", "axis": null},
            "y": {"datum": 5290, "type": "quantitative", "scale": {"domain": [0, 6000], "nice": false}, "axis": null}
          }
        },
        {
          "mark": {"type": "text", "dx": 10, "align": "center", "baseline": "middle", "font": "Liberation Serif", "fontSize": 15, "fontWeight": "bold", "color": "black"},
          "encoding": {
            "x": {"field": "t", "type": "temporal", "axis": null},
            "y": {"datum": 5290, "type": "quantitative", "scale": {"domain": [0, 6000], "nice": false}, "axis": null},
            "text": {"field": "n"}
          }
        }
      ]
    }
  ]
}
